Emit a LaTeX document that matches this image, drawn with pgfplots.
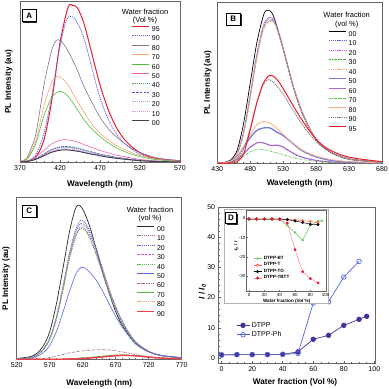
\documentclass[border=0pt]{standalone}
\usepackage{pgfplots}
\pgfplotsset{compat=1.18}
\usepackage{fontspec}
\setmainfont{Liberation Sans}
\usetikzlibrary{shadows}

% line colours
\definecolor{aRed}{RGB}{232,30,45}
\definecolor{aBlue}{RGB}{90,100,230}
\definecolor{aMauve}{RGB}{140,110,140}
\definecolor{aOrange}{RGB}{255,160,110}
\definecolor{aGreen}{RGB}{80,190,60}
\definecolor{aPink}{RGB}{240,100,160}
\definecolor{aGreenD}{RGB}{60,180,60}
\definecolor{aPurple}{RGB}{90,80,200}
\definecolor{aSky}{RGB}{150,170,230}
\definecolor{aPinkD}{RGB}{235,140,220}
\definecolor{aDark}{RGB}{70,60,80}
\definecolor{bMag}{RGB}{220,80,220}
\definecolor{bRoyal}{RGB}{90,100,220}
\definecolor{bViolet}{RGB}{150,80,200}
\definecolor{bSalmon}{RGB}{255,170,130}
\definecolor{cMauve}{RGB}{160,100,130}
\definecolor{dDark}{RGB}{70,50,150}
\definecolor{dBlue}{RGB}{80,100,220}
\definecolor{iGreen}{RGB}{100,200,100}
\definecolor{iOrange}{RGB}{255,110,80}
\definecolor{iPink}{RGB}{255,130,150}
\definecolor{iRed}{RGB}{230,30,60}

\tikzset{
  dotA/.style={dash pattern=on 1.2pt off 0.9pt},
  dashA/.style={dash pattern=on 2.5pt off 1.2pt},
  dashdotA/.style={dash pattern=on 2.5pt off 1pt on 0.6pt off 1pt},
  plab/.style={draw=black, fill=white, line width=0.5pt,
    font=\bfseries\fontsize{8}{8}\selectfont, minimum width=14pt,
    minimum height=12pt, inner sep=0pt,
    drop shadow={shadow xshift=1.2pt, shadow yshift=-1.2pt, fill=black!85, opacity=1}},
}

\pgfplotsset{
  pl/.style={
    scale only axis, anchor=south west,
    axis line style={black!60, line width=0.6pt},
    ytick=\empty, xtick pos=bottom, tick align=inside,
    major tick length=2.5pt, minor tick length=1.5pt,
    tick style={black!60, line width=0.5pt},
    minor x tick num=4,
    ymin=0, ymax=100,
    /pgf/number format/assume math mode=true,
    /pgf/number format/set thousands separator={},
    ticklabel style={font=\fontsize{7}{8}\selectfont},
    xlabel={Wavelength (nm)}, ylabel={PL Intensity (au)},
    label style={font=\bfseries\fontsize{8.2}{9}\selectfont},
    every axis plot/.append style={smooth, line width=0.6pt},
    legend cell align=left,
    legend image code/.code={\draw[##1] (0pt,2.5pt) -- (17pt,2.5pt);},
    legend style={draw=none, fill=none, anchor=north west, inner sep=0pt,
      outer sep=0pt, font=\fontsize{7}{7}\selectfont, row sep=4.1pt,
      column sep=2pt, nodes={inner sep=0pt, text height=5pt, text depth=0pt}},
  },
}

\begin{document}
\begin{tikzpicture}[x=1pt,y=1pt]
\useasboundingbox (0,0) rectangle (389,389);

% ---------------- A ----------------
\begin{axis}[pl, at={(20pt,226.7pt)}, width=160pt, height=161.3pt,
  xmin=370, xmax=570, xtick={370,420,...,570},
  x label style={at={(axis description cs:0.5,-0.135)},anchor=center},
  y label style={at={(axis description cs:-0.07,0.5)},rotate=0,anchor=center},
  legend style={at={(axis description cs:0.70,0.846)}}]
\addplot[aRed, line width=1pt] coordinates {(370,0.5)(380,0.8)(390,3.5)(400,14)(410,39)(420,74)(430,96)(436,97.3)(442,95.5)(450,86)(460,67)(470,48)(480,33)(490,22)(500,14.5)(510,9.5)(520,6)(535,3)(550,1.8)(570,1)};
\addlegendentry{95}
\addplot[aBlue, dotA, line width=0.8pt] coordinates {(370,0.5)(380,1)(390,5)(400,18)(410,42)(420,72)(428,88)(434,90.5)(440,88)(450,77)(460,58)(470,40)(480,27)(490,18)(500,12)(510,8)(520,5)(535,2.5)(550,1.5)(570,0.8)};
\addlegendentry{90}
\addplot[aMauve] coordinates {(370,0.5)(375,1.5)(380,4)(390,18)(400,48)(410,70)(417,76)(425,73)(430,69)(440,59)(450,47)(460,37)(470,28)(480,21)(490,16)(500,12)(510,8.5)(520,6)(535,3.5)(550,2)(570,1)};
\addlegendentry{80}
\addplot[aOrange] coordinates {(370,0.4)(380,3)(390,14)(400,35)(410,50)(417,53.5)(425,51)(430,48)(440,39.5)(450,31)(460,23.5)(470,18)(480,14)(490,10.5)(500,8)(510,6)(520,4.2)(535,2.5)(550,1.4)(570,0.7)};
\addlegendentry{70}
\addplot[aGreen] coordinates {(370,0.3)(380,2.5)(390,12)(400,29)(410,40.5)(419,44)(425,43)(430,41)(440,34)(450,26.5)(460,20.5)(470,16)(480,12.2)(490,9)(500,6.8)(510,5)(520,3.5)(535,2)(550,1.2)(570,0.5)};
\addlegendentry{60}
\addplot[aPink] coordinates {(370,0.2)(380,1)(390,3.5)(400,7.5)(410,11.5)(420,13.7)(427,14)(435,13.5)(445,12)(455,10)(465,8.3)(475,6.6)(490,4.5)(505,3)(520,1.8)(540,0.9)(570,0.3)};
\addlegendentry{50}
\addplot[aGreenD, dotA, line width=0.8pt] coordinates {(370,0.1)(380,0.7)(390,2.4)(400,5.1)(410,7.8)(420,9.3)(427,9.5)(435,9.2)(445,8.2)(455,6.8)(465,5.6)(475,4.5)(490,3.1)(505,2)(520,1.2)(540,0.6)(570,0.2)};
\addlegendentry{40}
\addplot[aPurple, dashA] coordinates {(370,0.1)(380,0.7)(390,2.5)(400,5.3)(410,8.1)(420,9.6)(427,9.8)(435,9.5)(445,8.4)(455,7)(465,5.8)(475,4.6)(490,3.2)(505,2.1)(520,1.3)(540,0.6)(570,0.2)};
\addlegendentry{30}
\addplot[aSky, dotA, line width=0.8pt] coordinates {(370,0.1)(380,0.7)(390,2.3)(400,5)(410,7.6)(420,9)(427,9.2)(435,8.9)(445,7.9)(455,6.6)(465,5.5)(475,4.4)(490,3)(505,2)(520,1.2)(540,0.6)(570,0.2)};
\addlegendentry{20}
\addplot[aPinkD, dotA, line width=0.8pt] coordinates {(370,0.1)(380,0.6)(390,2.1)(400,4.5)(410,6.9)(420,8.2)(427,8.4)(435,8.1)(445,7.2)(455,6)(465,5)(475,4)(490,2.7)(505,1.8)(520,1.1)(540,0.5)(570,0.2)};
\addlegendentry{10}
\addplot[aDark, line width=1pt] coordinates {(370,0.1)(380,0.6)(390,1.9)(400,4.1)(410,6.3)(420,7.5)(427,7.7)(435,7.4)(445,6.6)(455,5.5)(465,4.6)(475,3.6)(490,2.5)(505,1.7)(520,1)(540,0.5)(570,0.2)};
\addlegendentry{00}
\end{axis}

% ---------------- B ----------------
\begin{axis}[pl, at={(217.3pt,225.7pt)}, width=164.7pt, height=160.6pt,
  xmin=430, xmax=680, xtick={430,480,...,680},
  x label style={at={(axis description cs:0.5,-0.125)},anchor=center},
  y label style={at={(axis description cs:-0.058,0.5)},rotate=0,anchor=center},
  legend style={at={(axis description cs:0.674,0.825)}}]
\addplot[black, line width=0.7pt] coordinates {(430,0)(440,0.5)(450,2)(460,8)(470,25)(480,50)(490,75)(500,92)(506,95.4)(515,92)(530,71)(545,48)(560,30)(580,14.6)(600,7.3)(630,2.5)(680,0.6)};
\addlegendentry{00}
\addplot[aBlue, dotA, line width=0.8pt] coordinates {(430,0)(440,0.3)(450,1.5)(460,6)(470,20)(480,43)(490,68)(500,86)(509,91)(518,88)(530,72)(545,49)(560,31)(580,15)(600,7.5)(630,2.6)(680,0.6)};
\addlegendentry{10}
\addplot[bMag, dotA, line width=0.8pt] coordinates {(430,0)(440,0.3)(450,1.4)(460,5.7)(470,19)(480,42)(490,67)(500,85)(509,90)(518,87)(530,71.5)(545,48.5)(560,30.5)(580,15)(600,7.5)(630,2.6)(680,0.6)};
\addlegendentry{20}
\addplot[aGreenD, dashdotA] coordinates {(430,0)(440,0.3)(450,1.4)(460,5.5)(470,18.5)(480,41)(490,66)(500,84)(510,89)(518,86.5)(530,71)(545,48)(560,30)(580,15)(600,7.5)(630,2.6)(680,0.6)};
\addlegendentry{30}
\addplot[aOrange, dotA, line width=0.8pt] coordinates {(430,0)(440,0.3)(450,1.3)(460,5.3)(470,18)(480,40)(490,65)(500,83)(510,88.5)(518,86)(530,71)(545,48)(560,30)(580,15)(600,7.5)(630,2.6)(680,0.6)};
\addlegendentry{40}
\addplot[bRoyal, line width=1.3pt, opacity=0.85] coordinates {(430,0)(440,0.3)(450,1.2)(460,4)(470,10)(480,16)(490,20.5)(500,22)(510,22)(520,19.5)(528,17.8)(540,14)(550,10.5)(560,7.5)(580,4)(600,2)(630,0.8)(680,0.2)};
\addlegendentry{50}
\addplot[bViolet, line width=1.2pt, opacity=0.85] coordinates {(430,0)(440,0.2)(450,0.8)(460,2.5)(470,6)(480,10)(490,12.7)(497,13)(505,12)(512,11)(520,11.3)(528,10.5)(540,7.5)(550,5.2)(560,3.6)(580,1.8)(600,0.9)(630,0.3)(680,0)};
\addlegendentry{60}
\addplot[aGreen, dashdotA] coordinates {(430,0)(440,0.2)(450,0.6)(460,2)(470,4.5)(480,7.3)(490,8.8)(500,8.5)(510,7.6)(520,6.5)(530,5.3)(545,3.6)(560,2.3)(580,1.2)(600,0.6)(630,0.2)(680,0)};
\addlegendentry{70}
\addplot[bSalmon, line width=0.8pt] coordinates {(430,0)(440,0.3)(450,1.2)(460,4)(470,10)(480,18)(490,24)(500,26)(510,25)(520,22)(530,18)(545,12.5)(560,8)(580,4.5)(600,2.5)(630,1)(680,0.3)};
\addlegendentry{80}
\addplot[black!55, dotA, line width=0.8pt] coordinates {(430,0)(450,0.3)(460,2.5)(470,9)(480,22)(490,38)(500,49)(507,52)(515,50.5)(530,43)(545,33)(560,23.5)(580,13.5)(600,7.5)(630,3)(680,0.8)};
\addlegendentry{90}
\addplot[aRed, line width=1pt] coordinates {(430,0)(450,0.1)(460,1)(470,6)(480,21)(490,37.5)(500,50)(510,54.8)(520,52.5)(530,46.5)(545,36)(560,26)(580,15)(600,8.5)(630,3.8)(680,1)};
\addlegendentry{95}
\end{axis}

% ---------------- C ----------------
\begin{axis}[pl, at={(16.7pt,29.7pt)}, width=165pt, height=161.6pt,
  xmin=520, xmax=770, xtick={520,570,...,770},
  x label style={at={(axis description cs:0.5,-0.147)},anchor=center},
  y label style={at={(axis description cs:-0.065,0.5)},rotate=0,anchor=center},
  legend style={at={(axis description cs:0.727,0.826)}}]
\addplot[black!85, line width=0.7pt] coordinates {(520,0.5)(540,1.6)(550,3.5)(560,8)(570,17)(580,34)(590,56)(600,79)(608,92)(613,95.5)(620,93)(630,83)(640,69)(650,54)(660,41)(670,29.5)(680,21)(700,10)(720,4.7)(740,2.3)(770,1)};
\addlegendentry{00}
\addplot[cMauve, dotA, line width=0.8pt] coordinates {(520,0.3)(540,1)(550,2.5)(560,6)(570,13)(580,26)(590,45)(600,66)(610,81)(617,86)(625,84)(635,75)(645,63)(655,50)(665,38)(675,28)(685,20)(700,11)(720,5)(740,2.3)(770,1)};
\addlegendentry{10}
\addplot[aBlue, dotA, line width=0.8pt] coordinates {(520,0.3)(540,1)(550,2.4)(560,5.9)(570,12.7)(580,25.4)(590,44)(600,64.5)(610,79.1)(617,84)(625,82.1)(635,73.3)(645,61.6)(655,48.9)(665,37.1)(675,27.4)(685,19.5)(700,10.7)(720,4.9)(740,2.2)(770,1)};
\addlegendentry{20}
\addplot[bMag, dashA] coordinates {(520,0.3)(540,1)(550,2.4)(560,5.7)(570,12.4)(580,24.8)(590,42.9)(600,62.9)(610,77.2)(617,82)(625,80)(635,71.5)(645,60)(655,47.7)(665,36.2)(675,26.7)(685,19.1)(700,10.5)(720,4.8)(740,2.2)(770,1)};
\addlegendentry{30}
\addplot[aGreen, dotA, line width=0.8pt] coordinates {(520,0.3)(540,0.9)(550,2.4)(560,5.7)(570,12.2)(580,24.5)(590,42.4)(600,62.2)(610,76.3)(617,81)(625,79.1)(635,70.7)(645,59.3)(655,47.1)(665,35.8)(675,26.4)(685,18.8)(700,10.4)(720,4.7)(740,2.2)(770,0.9)};
\addlegendentry{40}
\addplot[aBlue] coordinates {(520,0.2)(540,0.7)(550,1.7)(560,4)(570,8.5)(580,17)(590,29)(600,42)(610,53)(618,57)(625,56)(635,52)(645,46)(655,38.5)(665,30.5)(675,23)(685,17)(700,9.5)(720,4.5)(740,2.2)(770,1)};
\addlegendentry{50}
\addplot[cMauve, dashdotA] coordinates {(520,0)(550,0.3)(570,1)(585,2.5)(600,4)(615,5)(630,5.6)(645,5.9)(660,5.8)(675,5)(690,3.8)(705,2.6)(720,1.6)(740,0.8)(770,0.3)};
\addlegendentry{60}
\addplot[aGreen, line width=0.8pt] coordinates {(520,0)(580,0)(600,0.3)(620,0.8)(640,1.5)(660,2.3)(675,2.7)(690,2.5)(705,2)(720,1.4)(740,0.8)(770,0.3)};
\addlegendentry{70}
\addplot[aOrange, dotA, line width=0.8pt] coordinates {(520,0)(580,0)(600,0.3)(620,0.7)(640,1.3)(660,2)(675,2.3)(690,2.3)(705,1.9)(720,1.3)(740,0.7)(770,0.3)};
\addlegendentry{80}
\addplot[aRed!85, line width=1.4pt] coordinates {(520,0)(580,0)(600,0.2)(620,0.5)(640,1.1)(660,1.8)(678,2.4)(695,2.3)(710,1.8)(725,1.2)(745,0.6)(770,0.3)};
\addlegendentry{90}
\end{axis}

% ---------------- D ----------------
\begin{axis}[scale only axis, anchor=south west, at={(218.6pt,25.9pt)},
  width=156.5pt, height=156.1pt,
  xmin=-2, xmax=100.5, ymin=-1.7, ymax=50,
  xtick={0,20,...,100}, ytick={0,10,...,50},
  minor x tick num=3, minor y tick num=4,
  axis line style={black!60, line width=0.6pt},
  tick style={black!60, line width=0.5pt}, tick align=inside,
  major tick length=2.5pt, minor tick length=1.5pt,
  xtick pos=bottom, ytick pos=left,
  /pgf/number format/assume math mode=true,
  ticklabel style={font=\fontsize{7}{8}\selectfont},
  xlabel={Water fraction (Vol \%)},
  ylabel={\textit{I} / \textit{I}\textsubscript{\textit{0}}},
  label style={font=\bfseries\fontsize{8.2}{9}\selectfont},
  x label style={at={(axis description cs:0.488,-0.121)},anchor=center},
  y label style={at={(axis description cs:-0.104,0.457)},rotate=0,anchor=center},
  legend cell align=left,
  legend style={at={(axis description cs:0.092,0.289)}, anchor=north west,
    draw=none, fill=none, font=\fontsize{7}{8}\selectfont, row sep=-1pt},
  legend image code/.code={\draw[#1] (0pt,0pt) -- (13pt,0pt);
    \draw[#1, mark repeat=1] plot coordinates {(6.5pt,0pt)};}]
\addplot[dDark, line width=0.7pt, mark=*, mark size=2.3pt, mark options={fill=dDark}] coordinates {(0,1)(10,1.1)(20,1.1)(30,1.1)(40,1.2)(50,2)(60,6.2)(70,7.5)(80,10.8)(90,12.8)(95,13.8)};
\addlegendentry{DTPP}
\addplot[dBlue, line width=0.7pt, mark=o, mark size=2.3pt, mark options={fill=white}] coordinates {(0,1)(10,1.1)(20,1.1)(30,1.1)(40,1.2)(50,1.5)(60,18.2)(70,18.6)(80,26.8)(90,32)};
\addlegendentry{DTPP-Ph}
\end{axis}

% inset frame
\filldraw[fill=white, draw=black!30, line width=0.5pt] (224.3,85.7) rectangle (328.3,180);

\begin{axis}[scale only axis, anchor=south west, at={(246.7pt,97.3pt)},
  width=80pt, height=81.7pt,
  xmin=-3, xmax=101.3, ymin=-38.2, ymax=4.3,
  xtick={0,20,...,100}, ytick={0,-10,-20,-30},
  axis line style={black!60, line width=0.5pt},
  tick style={black!60, line width=0.4pt}, tick align=inside,
  major tick length=1.5pt, xtick pos=bottom, ytick pos=left,
  /pgf/number format/assume math mode=true,
  ticklabel style={font=\fontsize{4.5}{5}\selectfont, inner sep=1pt},
  xlabel={Water fraction (Vol \%)},
  ylabel={\textit{-I}\textsubscript{\textit{0}} / \textit{I}},
  label style={font=\bfseries\fontsize{4.6}{5}\selectfont},
  x label style={at={(axis description cs:0.5,-0.114)},anchor=center},
  y label style={at={(axis description cs:-0.13,0.55)},rotate=0,anchor=center},
  legend cell align=left,
  legend style={at={(axis description cs:0.08,0.461)}, anchor=north west,
    draw=none, fill=none, font=\bfseries\fontsize{4.6}{5}\selectfont,
    row sep=-2.2pt, inner sep=0pt},
  legend image code/.code={\draw[#1] (0pt,0pt) -- (8pt,0pt);
    \draw[#1] plot coordinates {(4pt,0pt)};},
  every axis plot/.append style={line width=0.5pt, mark size=1.2pt}]
\addplot[iGreen, mark=triangle*, mark options={fill=iGreen!50}] coordinates {(0,-0.4)(10,-0.4)(20,-0.4)(30,-0.4)(40,-0.6)(50,-3.8)(60,-7.4)(70,-11.4)(80,-3.6)(90,-1.4)(95,-1.3)};
\addlegendentry{DTPP-BT}
\addplot[iOrange, mark=*, mark options={fill=iOrange}] coordinates {(0,-0.4)(10,-0.4)(20,-0.4)(30,-0.4)(40,-0.4)(50,-0.6)(60,-0.9)(70,-1.2)(80,-1.7)(90,-2.2)};
\addlegendentry{DTPP-T}
\addplot[black, mark=*, mark options={fill=black}] coordinates {(0,-0.4)(10,-0.4)(20,-0.4)(30,-0.4)(40,-0.4)(50,-0.7)(60,-1.4)(70,-2.2)(80,-3.1)(90,-3.3)};
\addlegendentry{DTPP-TO}
\addplot[iPink, mark=*, mark options={fill=iRed, draw=iRed}] coordinates {(0,-0.4)(10,-0.4)(20,-0.4)(30,-0.4)(40,-0.6)(50,-2.5)(60,-16.3)(70,-27.8)(80,-31.4)(90,-33.6)};
\addlegendentry{DTPP-TBTT}
\end{axis}

% legend titles and panel labels
\begin{scope}[every node/.style={font=\fontsize{7.5}{8}\selectfont, inner sep=0pt}]
\node at (145,377.3) {Water fraction};
\node at (145,368.3) {(Vol \%)};
\node at (346.7,374) {Water fraction};
\node at (346.7,364) {(vol \%)};
\node at (150,179) {Water fraction};
\node at (150,170) {(vol \%)};
\end{scope}
\node[plab] at (29.2,373.5) {A};
\node[plab] at (233.3,370.2) {B};
\node[plab] at (29.3,178.2) {C};
\node[plab, minimum width=11pt, minimum height=11pt] at (231,171) {D};

\end{tikzpicture}
\end{document}
